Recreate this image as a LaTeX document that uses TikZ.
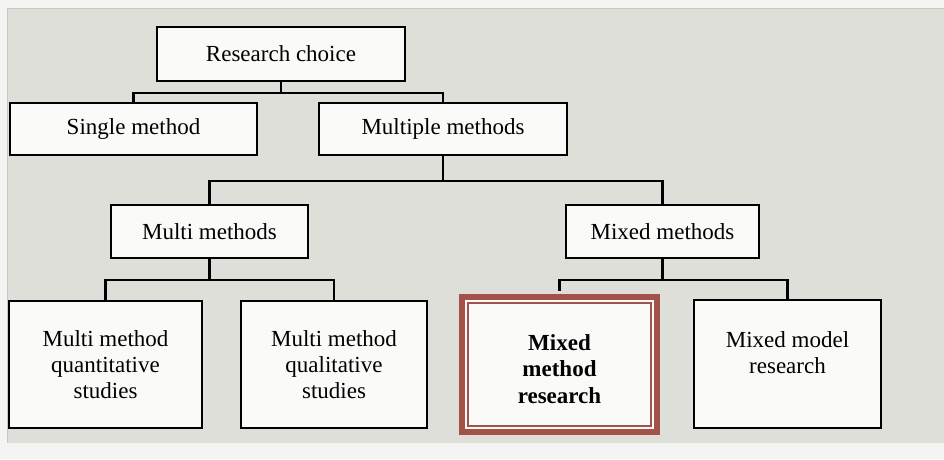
\documentclass[tikz,border=0pt]{standalone}
\usepackage{fontspec}
\setmainfont{Liberation Serif}
\usetikzlibrary{calc}
\definecolor{paper}{RGB}{244,244,242}
\definecolor{pagegrey}{RGB}{222,223,217}
\definecolor{pageedge}{RGB}{200,200,190}
\definecolor{boxfill}{RGB}{250,250,249}
\definecolor{accent}{RGB}{163,82,74}
\begin{document}
\begin{tikzpicture}[x=1pt,y=-1pt,
  box/.style={draw=black,line width=2.2pt,fill=boxfill,rectangle,inner sep=0pt,
    align=center,font=\fontsize{23}{26}\selectfont},
  link/.style={draw=black,line width=2.2pt},
  hilite/.style={draw=accent,line width=6pt,fill=boxfill,rectangle,inner sep=0pt},
  hiline/.style={draw=accent,line width=1.6pt,rectangle,inner sep=0pt},
  caption/.style={align=center,inner sep=0pt,font=\fontsize{23}{26}\selectfont}]
\useasboundingbox (0,0) rectangle (944,459);
% page background
\fill[paper] (0,0) rectangle (944,459);
\fill[pagegrey] (7,8) rectangle (944,443);
\draw[pageedge,line width=0.8pt] (7,443) -- (7,8) -- (944,8);

% level 0 and 1
\node[box,minimum width=248pt,minimum height=54pt] (rc) at (281,54) {Research choice};
\node[box,minimum width=247pt,minimum height=52pt] (sm) at (133.5,129) {Single method};
\node[box,minimum width=248pt,minimum height=52pt] (mm) at (443,129) {Multiple methods};

% level 2
\node[box,minimum width=197pt,minimum height=53pt] (mu) at (209.5,231.5) {Multi methods};
\node[box,minimum width=193pt,minimum height=53pt] (mx) at (662.5,231.5) {Mixed methods};

% level 3
\node[box,minimum width=193pt,minimum height=127pt] (q1) at (105.5,364.5)
  {Multi method\\quantitative\\studies};
\node[box,minimum width=186pt,minimum height=127pt] (q2) at (334,364.5)
  {Multi method\\qualitative\\studies};
\node[hilite,minimum width=195pt,minimum height=135pt] (mr) at (559.5,364.5) {};
\node[hiline,minimum width=183pt,minimum height=123pt] (mrin) at (mr.center) {};
\node[caption,font=\fontsize{23}{26.5}\selectfont\bfseries] (mrtext) at (559.5,369)
  {Mixed\\method\\research};
\node[box,minimum width=187pt,minimum height=128pt] (md) at (787.5,364) {};
\node[caption] (mdtext) at (787.5,353) {Mixed model\\research};

% junction points of the tree
\coordinate (j1) at ($(rc.south)+(0,11)$);
\coordinate (j2) at ($(mm.south)+(0,25)$);
\coordinate (j3) at ($(mu.south)+(0,21)$);
\coordinate (j4) at ($(mx.south)+(0,21)$);

% connectors
\draw[link] (rc.south) -- (j1);
\draw[link] (j1) -| (sm.north);
\draw[link] (j1) -| (mm.north);
\draw[link] (mm.south) -- (j2);
\draw[link] (j2) -| (mu.north);
\draw[link] (j2) -| (mx.north);
\draw[link] (mu.south) -- (j3);
\draw[link] (j3) -| (q1.north);
\draw[link] (j3) -| (q2.north);
\draw[link] (mx.south) -- (j4);
\draw[link] (j4) -| ($(mr.north)+(0,-3)$);
\draw[link] (j4) -| (md.north);
\end{tikzpicture}
\end{document}
